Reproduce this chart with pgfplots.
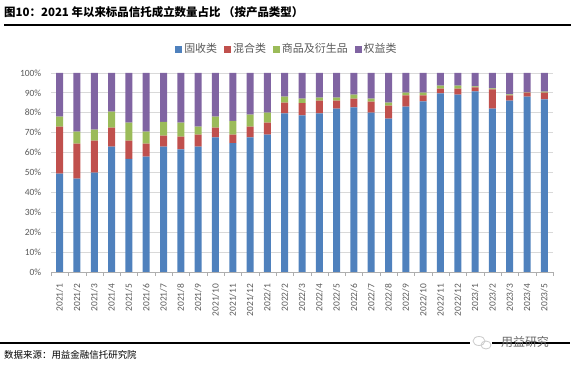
\documentclass[border=0pt]{standalone}
\usepackage{fontspec}
\usepackage{pgfplots}
\usepackage{pgfplotstable}
\pgfplotsset{compat=1.18}
\setmainfont{Carlito}
\newfontfamily\cjk{Noto Sans CJK SC}
\definecolor{cblue}{HTML}{4F81BD}
\definecolor{cred}{HTML}{C0504D}
\definecolor{cgreen}{HTML}{9BBB59}
\definecolor{cpurple}{HTML}{8064A2}
\definecolor{gridc}{HTML}{D9D9D9}
\definecolor{tickc}{HTML}{595959}
\pgfplotstableread{
x b r g p
0 49.4 23.6 5.1 21.9
1 46.9 17.6 6.0 29.5
2 49.9 16.1 5.5 28.5
3 63.0 9.5 8.1 19.4
4 56.9 9.1 9.0 25.0
5 58.0 6.5 6.0 29.5
6 63.0 5.5 7.0 24.5
7 61.6 6.4 7.0 25.0
8 63.0 6.0 4.0 27.0
9 67.7 4.8 5.6 21.9
10 64.7 4.3 7.0 24.0
11 67.7 5.3 6.1 20.9
12 69.0 6.0 5.1 19.9
13 79.7 5.4 3.0 11.9
14 78.7 6.1 2.3 12.9
15 79.7 6.4 1.5 12.4
16 82.1 4.0 1.5 12.4
17 82.7 4.4 2.0 10.9
18 80.1 5.5 1.5 12.9
19 77.1 6.5 1.5 14.9
20 83.1 5.7 1.3 9.9
21 85.8 3.0 1.3 9.9
22 89.8 2.3 1.5 6.4
23 89.1 3.0 1.5 6.4
24 90.8 2.0 0.5 6.7
25 82.1 9.7 0.5 7.7
26 86.1 2.7 0.5 10.7
27 88.1 2.0 0.1 9.8
28 86.8 3.3 0.5 9.4
}\datatable
\begin{document}
\begin{tikzpicture}
\path[use as bounding box] (0,0) rectangle (573bp,366bp);
\node[anchor=west, inner sep=0pt, font=\cjk\bfseries\fontsize{11.5}{13}\selectfont] at (4bp,354bp) {图10：2021 年以来标品信托成立数量占比 （按产品类型）};
\draw[line width=2bp] (4bp,341bp) -- (571bp,341bp);
\draw[line width=2bp] (0bp,23bp) -- (570bp,23bp);
\node[anchor=west, inner sep=0pt, font=\cjk\fontsize{9.5}{11}\selectfont] at (4bp,11bp) {数据来源：用益金融信托研究院};
\fill[white] (470bp,17bp) rectangle (492bp,31bp);
\draw[gray!40, line width=0.8bp] (479bp,25bp) ellipse (6bp and 4.5bp);
\draw[gray!40, line width=0.8bp] (486bp,21bp) ellipse (5bp and 4bp);
\node[font=\cjk\fontsize{12}{13}\selectfont, text=gray!80!black, inner sep=0pt] at (525bp,24bp) {用益研究};
\begin{axis}[
  at={(51bp,94bp)}, anchor=south west, scale only axis,
  width=502bp, height=199bp,
  ybar stacked, bar width=7bp,
  xmin=-0.5, xmax=28.5, ymin=0, ymax=100,
  xtick={0,...,28},
  xticklabels={2021/1,2021/2,2021/3,2021/4,2021/5,2021/6,2021/7,2021/8,2021/9,2021/10,2021/11,2021/12,2022/1,2022/2,2022/3,2022/4,2022/5,2022/6,2022/7,2022/8,2022/9,2022/10,2022/11,2022/12,2023/1,2023/2,2023/3,2023/4,2023/5},
  minor xtick={-0.5,0.5,...,28.5},
  major x tick style={draw=none},
  minor x tick style={draw=gridc!80!black},
  minor tick length=4bp,
  tick align=outside,
  xtick pos=bottom,
  ytick={0,10,...,100},
  yticklabel={\pgfmathprintnumber{\tick}\%},
  ytick style={draw=none},
  ymajorgrids, grid style={gridc, line width=0.8bp},
  axis x line*=bottom, axis y line*=left,
  y axis line style={draw=none},
  x axis line style={draw=gridc!80!black, line width=0.8bp},
  tick label style={font=\fontsize{9.5}{11}\selectfont, text=tickc},
  /pgf/number format/assume math mode=true,
  xticklabel style={rotate=90, anchor=east, yshift=0bp, xshift=-4bp},
  yticklabel style={xshift=-2bp},
  legend style={at={(0.47,1.12)}, anchor=center, legend columns=-1, draw=none,
    font=\cjk\fontsize{11}{13}\selectfont, text=tickc,
    /tikz/every even column/.append style={column sep=5bp}},
  legend image code/.code={\fill[#1] (0bp,-3.5bp) rectangle (7bp,3.5bp);},
]
\addplot[fill=cblue, draw=none] table[x=x, y=b] {\datatable};
\addplot[fill=cred, draw=none] table[x=x, y=r] {\datatable};
\addplot[fill=cgreen, draw=none] table[x=x, y=g] {\datatable};
\addplot[fill=cpurple, draw=none] table[x=x, y=p] {\datatable};
\legend{固收类,混合类,商品及衍生品,权益类}
\end{axis}
\end{tikzpicture}
\end{document}
